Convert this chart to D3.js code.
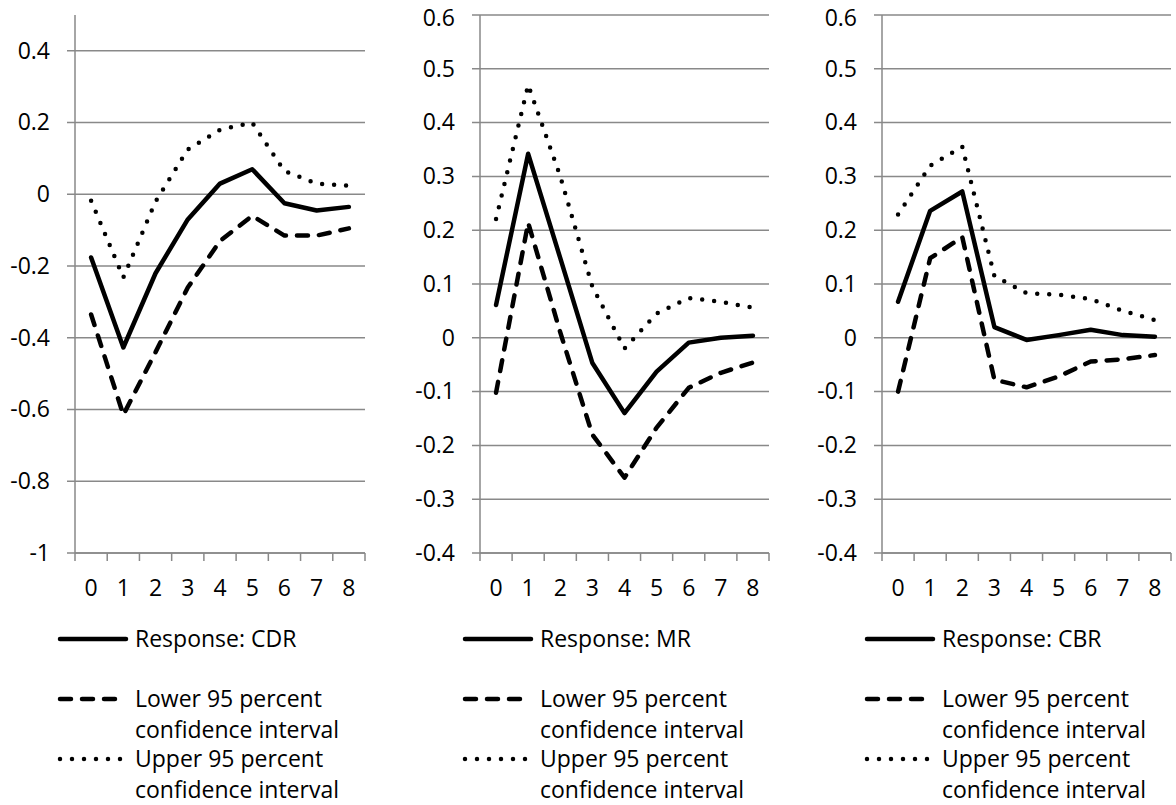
<!DOCTYPE html>
<html lang="en">
<head>
    <meta charset="UTF-8">
    <script type="text/javascript" src="https://d3js.org/d3.v7.min.js"></script>
    <title>Impulse responses</title>
    <style>
        body { margin: 0; background: #fff; }
        text { font-family: "Open Sans", Lato, sans-serif; fill: #000; }
    </style>
</head>
<body>
    <svg id="plot"></svg>

    <script type="text/javascript">
    // periods 0..8
    const periods = ["0","1","2","3","4","5","6","7","8"];

    // CDR panel
    const cdrResponse = [-0.176, -0.427, -0.22, -0.07, 0.03, 0.07, -0.025, -0.045, -0.035];
    const cdrLower    = [-0.335, -0.615, -0.44, -0.26, -0.13, -0.06, -0.115, -0.115, -0.095];
    const cdrUpper    = [-0.018, -0.232, -0.02, 0.125, 0.18, 0.2, 0.065, 0.03, 0.024];
    const cdrTicks    = [-1, -0.8, -0.6, -0.4, -0.2, 0, 0.2, 0.4];

    // MR panel
    const mrResponse = [0.061, 0.342, 0.148, -0.047, -0.14, -0.063, -0.009, 0.0, 0.004];
    const mrLower    = [-0.102, 0.214, 0.01, -0.18, -0.26, -0.167, -0.093, -0.065, -0.046];
    const mrUpper    = [0.221, 0.47, 0.3, 0.095, -0.02, 0.045, 0.074, 0.067, 0.056];
    const mrTicks    = [-0.4, -0.3, -0.2, -0.1, 0, 0.1, 0.2, 0.3, 0.4, 0.5, 0.6];

    // CBR panel
    const cbrResponse = [0.067, 0.236, 0.272, 0.02, -0.004, 0.005, 0.015, 0.005, 0.002];
    const cbrLower    = [-0.1, 0.148, 0.187, -0.078, -0.092, -0.072, -0.044, -0.04, -0.032];
    const cbrUpper    = [0.229, 0.32, 0.355, 0.115, 0.083, 0.08, 0.072, 0.05, 0.033];
    const cbrTicks    = mrTicks;

    const responseNames = ["CDR", "MR", "CBR"];
    const lowerLabel = ["Lower 95 percent", "confidence interval"];
    const upperLabel = ["Upper 95 percent", "confidence interval"];

    const width = 1176, height = 805;
    const svg = d3.select("#plot").attr("width", width).attr("height", height);

    const grey = "#898989";
    const fontSize = 23;

    // each panel: where the plot area sits, its y range and its data
    const panels = [
        {left: 75,  right: 365,  ymin: -1,   ymax: 0.5, ticks: cdrTicks, name: responseNames[0],
         resp: cdrResponse, lower: cdrLower, upper: cdrUpper, fmt: d3.format("")},
        {left: 480, right: 769,  ymin: -0.4, ymax: 0.6, ticks: mrTicks, name: responseNames[1],
         resp: mrResponse, lower: mrLower, upper: mrUpper, fmt: d3.format(".1~f")},
        {left: 882, right: 1171, ymin: -0.4, ymax: 0.6, ticks: cbrTicks, name: responseNames[2],
         resp: cbrResponse, lower: cbrLower, upper: cbrUpper, fmt: d3.format(".1~f")}
    ];
    const plotTop = 15, plotBottom = 553;

    const styles = {
        resp:  {dash: null,    cap: "round"},
        lower: {dash: "11 11", cap: "round"},
        upper: {dash: "0 12",  cap: "round"}
    };

    panels.forEach(function(p) {
        const g = svg.append("g");

        const x = d3.scaleBand().domain(periods).range([p.left, p.right]);
        const y = d3.scaleLinear().domain([p.ymin, p.ymax]).range([plotBottom, plotTop]);

        // gridlines (with the little outside tick on the left)
        g.append("g").selectAll("line").data(p.ticks).enter().append("line")
            .attr("x1", p.left - 8).attr("x2", p.right)
            .attr("y1", d => y(d)).attr("y2", d => y(d))
            .attr("stroke", grey).attr("stroke-width", 1.5);

        // y axis labels
        const yAxis = d3.axisLeft(y).tickValues(p.ticks).tickSize(0).tickPadding(25)
            .tickFormat(d => p.fmt(d).replace("−", "-"));
        g.append("g").attr("transform", `translate(${p.left},0)`).call(yAxis)
            .call(a => a.select(".domain").remove())
            .call(a => a.selectAll("text").attr("font-family", null).attr("font-size", fontSize)
                // the top label sits a little lower so it stays inside the page
                .attr("y", d => y(d) < 20 ? 3 : 0));

        // vertical axis line
        g.append("line").attr("x1", p.left).attr("x2", p.left).attr("y1", y(p.ymax)).attr("y2", plotBottom)
            .attr("stroke", grey).attr("stroke-width", 1.5);

        // x axis: ticks between categories, labels centred
        const xAxis = d3.axisBottom(x).tickSize(0).tickPadding(27);
        g.append("g").attr("transform", `translate(0,${plotBottom})`).call(xAxis)
            .call(a => a.select(".domain").remove())
            .call(a => a.selectAll("text").attr("font-family", null).attr("font-size", fontSize));
        const edges = periods.map(d => x(d)).concat([p.right]);
        g.append("g").selectAll("line").data(edges).enter().append("line")
            .attr("x1", d => d).attr("x2", d => d).attr("y1", plotBottom).attr("y2", plotBottom + 8)
            .attr("stroke", grey).attr("stroke-width", 1.5);
        g.append("line").attr("x1", p.left).attr("x2", p.right).attr("y1", plotBottom).attr("y2", plotBottom)
            .attr("stroke", grey).attr("stroke-width", 1.5);

        const line = d3.line()
            .x((d, i) => x(periods[i]) + x.bandwidth() / 2)
            .y(d => y(d));

        ["lower", "upper", "resp"].forEach(function(k) {
            g.append("path").attr("d", line(p[k]))
                .attr("fill", "none").attr("stroke", "#000").attr("stroke-width", 4.5)
                .attr("stroke-linejoin", "round")
                .attr("stroke-linecap", styles[k].cap)
                .attr("stroke-dasharray", styles[k].dash);
        });

        // legend
        const lx = p.left - 17;
        const leg = svg.append("g").attr("font-size", fontSize);
        const rows = [
            {k: "resp",  y: 639, lines: ["Response: " + p.name]},
            {k: "lower", y: 699, lines: lowerLabel},
            {k: "upper", y: 759, lines: upperLabel}
        ];
        rows.forEach(function(r) {
            leg.append("line").attr("x1", lx + 2).attr("x2", lx + 68).attr("y1", r.y).attr("y2", r.y)
                .attr("stroke", "#000").attr("stroke-width", 4.5)
                .attr("stroke-linecap", styles[r.k].cap)
                .attr("stroke-dasharray", styles[r.k].dash);
            r.lines.forEach(function(t, i) {
                leg.append("text").attr("x", lx + 77).attr("y", r.y + i * 31)
                    .attr("dy", "0.35em").text(t);
            });
        });
    });
    </script>
</body>
</html>
